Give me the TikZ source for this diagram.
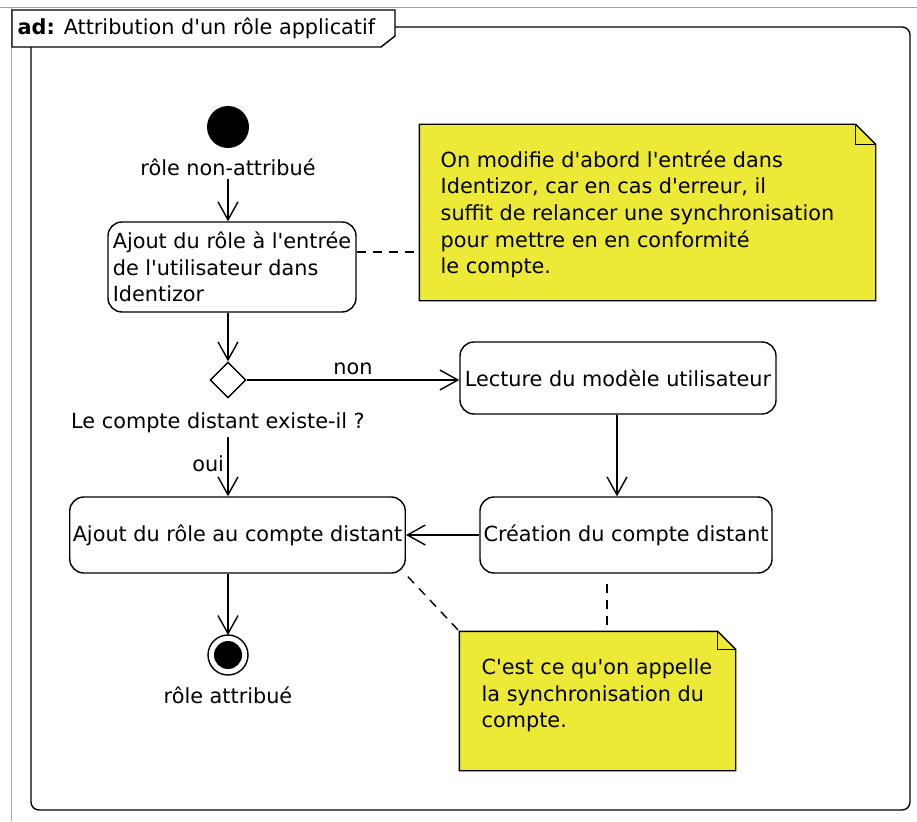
\documentclass[tikz,border=0pt]{standalone}
\usepackage{fontspec}
\setmainfont{DejaVu Sans}
\usetikzlibrary{arrows.meta,shapes.geometric}

\definecolor{noteyellow}{RGB}{237,233,55}
\newcommand{\umlfont}{\fontsize{20.8}{26.6}\selectfont}
\newcommand{\q}{\textquotesingle}
\tikzset{
  action/.style={draw, rounded corners=14pt, inner xsep=3pt, align=left, font=\umlfont},
  notebox/.style={inner sep=0pt},
  notetext/.style={inner sep=0pt, align=left, font=\umlfont},
  flow/.style={-{Straight Barb[length=18pt,width=20pt]}},
  notelink/.style={dash pattern=on 9pt off 7pt},
  lbl/.style={font=\umlfont}
}
% folded corner round a named note node
\newcommand{\drawnote}[2]{%
  \filldraw[fill=noteyellow] (#1.north west) -- ([xshift=-#2]#1.north east) -- ([yshift=-#2]#1.north east) -- (#1.south east) -- (#1.south west) -- cycle;
  \draw ([xshift=-#2]#1.north east) |- ([yshift=-#2]#1.north east);
}

\begin{document}
\begin{tikzpicture}[x=1pt, y=-1pt, line width=1.4pt]
  \useasboundingbox (0,0) rectangle (917,821);

  % frame
  \draw[gray!70, line width=1pt] (0,8) -- (917,8);
  \draw[gray!70, line width=1pt] (11,8) -- (11,821);
  \draw[rounded corners=8pt] (31,27) rectangle (910,810);
  \filldraw[fill=white] (12,10) -- (395,10) -- (395,36) -- (381,47) -- (12,47) -- cycle;
  \node[lbl, anchor=base west, inner sep=0pt] (title) at (17,35) {\textbf{ad:} Attribution d\q un rôle applicatif};

  % start
  \coordinate (start) at (228,127);
  \fill (start) circle (21);
  \node[lbl] (startlbl) at (228,167) {rôle non-attribué};

  \node[action, minimum width=248pt, minimum height=90pt] (ajoutentree) at (232,267)
    {Ajout du rôle à l\q entrée\\de l\q utilisateur dans\\Identizor};

  \node[draw, diamond, minimum width=36pt, minimum height=36pt, inner sep=0pt] (dec) at (228,380) {};
  \node[lbl] (question) at (218,423) {Le compte distant existe-il ?};

  \node[action, minimum width=316pt, minimum height=72pt] (lecture) at (618,378) {Lecture du modèle utilisateur};
  \node[action, minimum width=292pt, minimum height=76pt] (creation) at (626,535) {Création du compte distant};
  \node[action, minimum width=335pt, minimum height=76pt] (ajoutcompte) at (237.5,535) {Ajout du rôle au compte distant};

  % end
  \coordinate (fin) at (228,655);
  \draw (fin) circle (20);
  \fill (fin) circle (14);
  \node[lbl] (finlbl) at (228,695) {rôle attribué};

  % notes
  \node[notebox, minimum width=455pt, minimum height=175pt] (note1) at (647.5,212.5) {};
  \drawnote{note1}{20pt}
  \node[notetext, anchor=north west] (note1txt) at (440,150)
    {On modifie d\q abord l\q entrée dans\\Identizor, car en cas d\q erreur, il\\suffit de relancer une synchronisation\\pour mettre en en conformité\\le compte.};

  \node[notebox, minimum width=275pt, minimum height=138pt] (note2) at (597.5,701) {};
  \drawnote{note2}{18pt}
  \node[notetext, anchor=north west] (note2txt) at (481,658)
    {C\q est ce qu\q on appelle\\la synchronisation du\\compte.};

  % flows
  \draw[flow] (startlbl.south -| start) -- (start |- ajoutentree.north);
  \draw[flow] (dec.north |- ajoutentree.south) -- (dec.north);
  \draw[flow] (dec.east) -- node[lbl, above, inner sep=5pt] {non} (dec.east -| lecture.west);
  \draw[flow] (dec.south |- question.south) -- node[lbl, left, pos=0.45] {oui} (dec.south |- ajoutcompte.north);
  \draw[flow] ([xshift=-1pt]lecture.south) -- ([xshift=-1pt]lecture.south |- creation.north);
  \draw[flow] (creation.west) -- (ajoutcompte.east);
  \draw[flow] (fin |- ajoutcompte.south) -- ([yshift=20pt]fin);

  % note links
  \draw[notelink] ([yshift=15pt]ajoutentree.east) -- ([yshift=15pt]ajoutentree.east -| note1.west);
  \draw[notelink] ([xshift=2pt,yshift=-3pt]ajoutcompte.south east) -- (note2.north west);
  \draw[notelink] ([xshift=-19pt,yshift=-10pt]creation.south) -- ([xshift=-19pt]creation.south |- note2.north);
\end{tikzpicture}
\end{document}
